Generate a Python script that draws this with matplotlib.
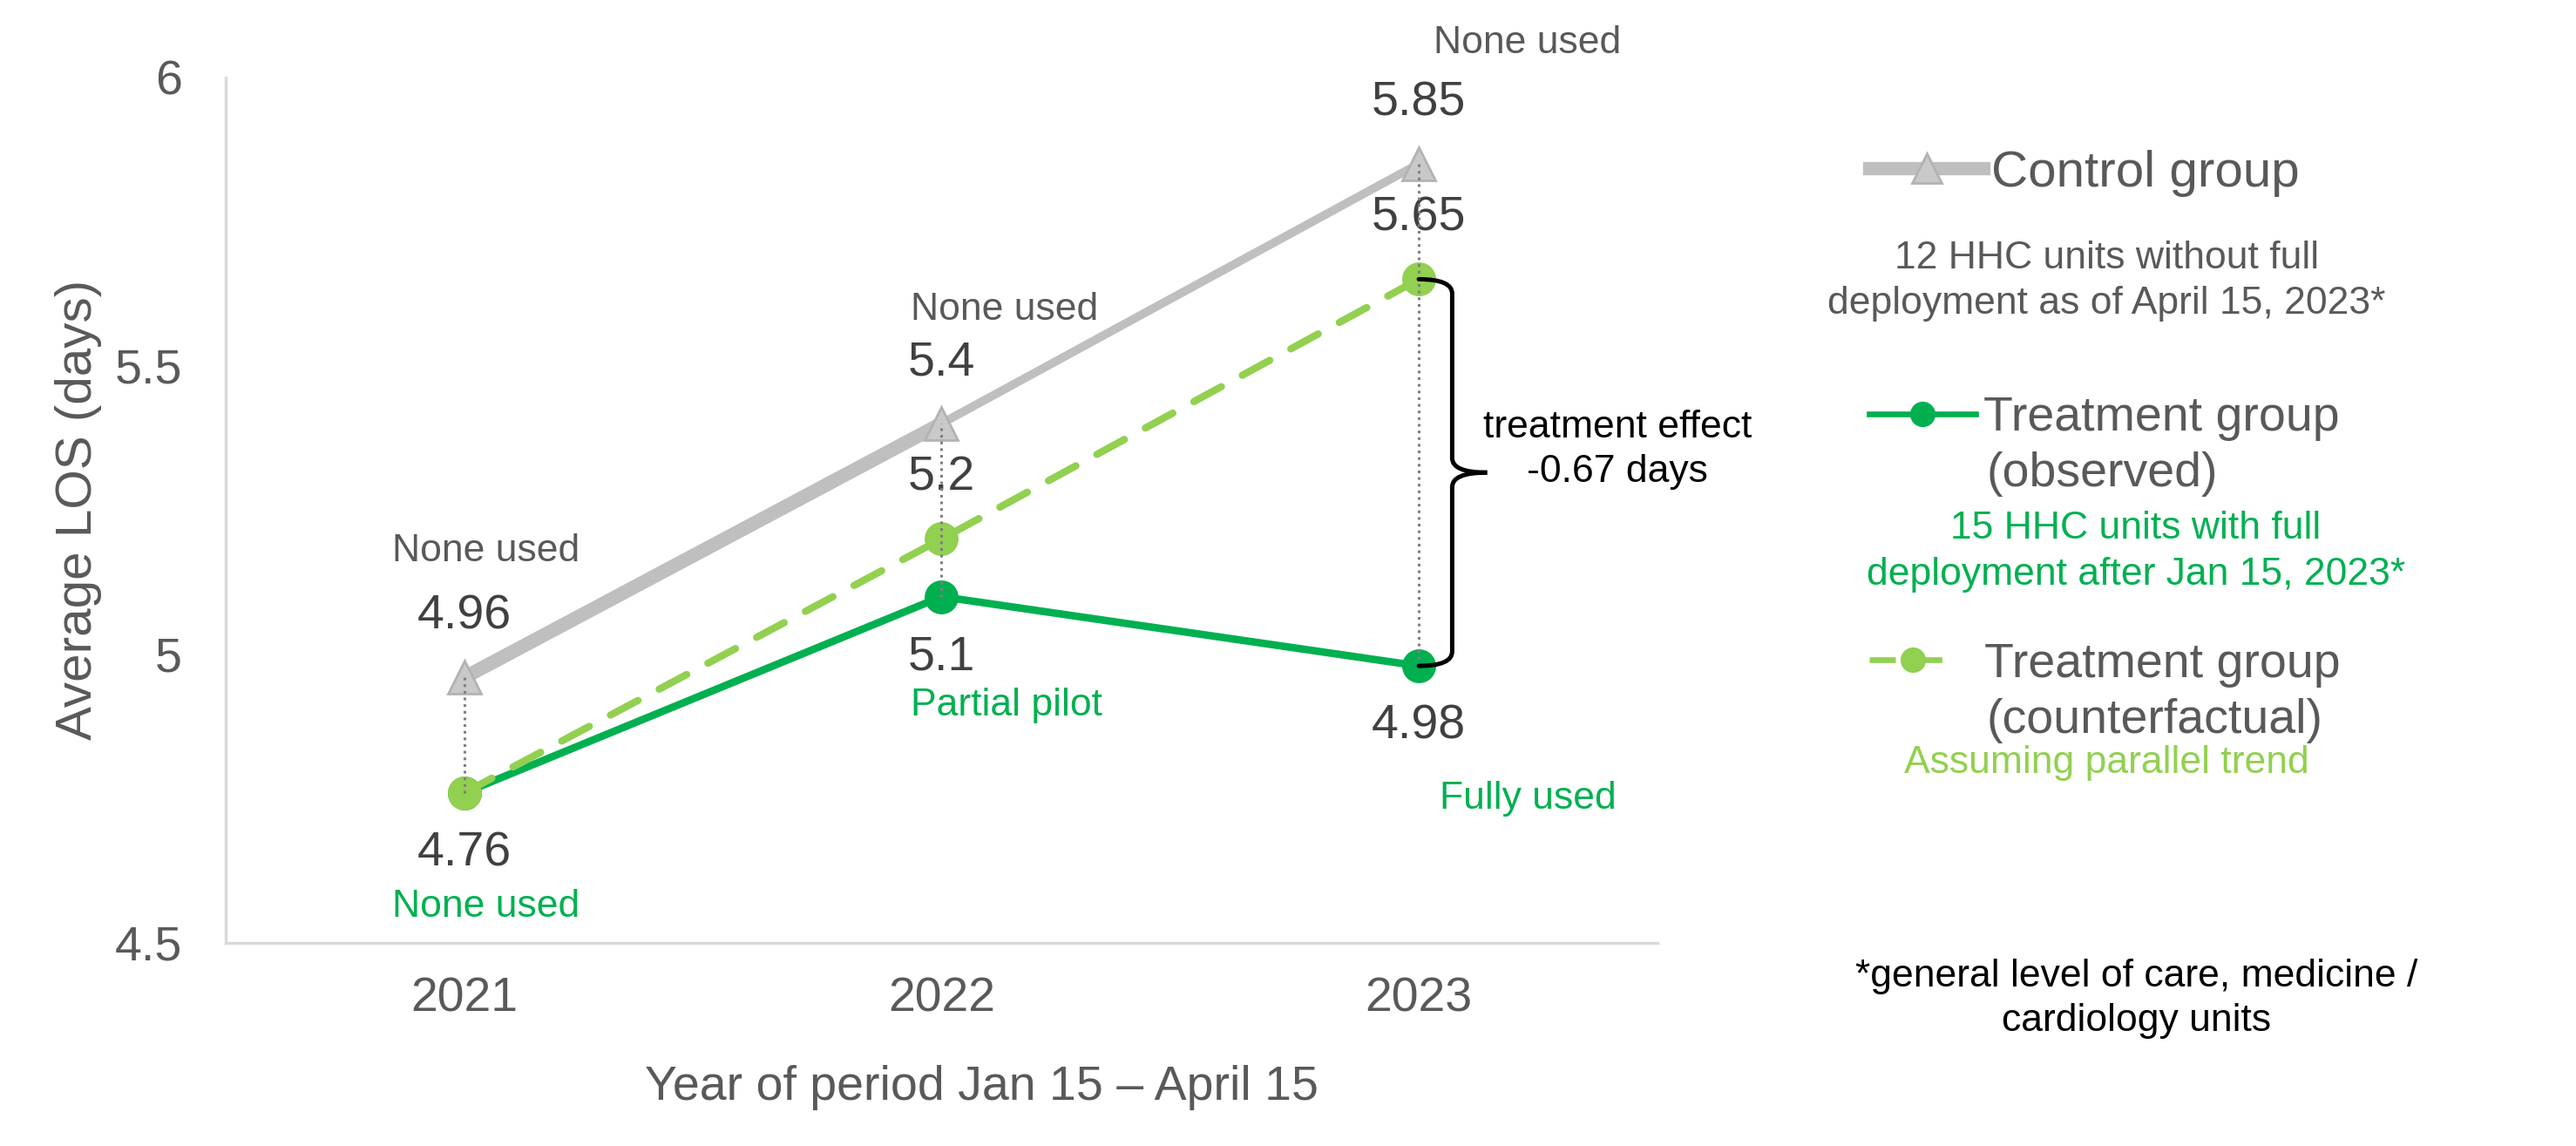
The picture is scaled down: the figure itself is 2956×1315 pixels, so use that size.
import numpy as np
import matplotlib.pyplot as plt
from matplotlib.lines import Line2D
from matplotlib.path import Path
from matplotlib.patches import PathPatch

plt.rcParams['font.family'] = ['Liberation Sans', 'DejaVu Sans']

# data
years = ["2021", "2022", "2023"]
control = [4.96, 5.4, 5.85]
treated = [4.76, 5.1, 4.98]
counterfactual = [4.76, 5.2, 5.65]
control_notes = ["None used", "None used", "None used"]
treated_notes = ["None used", "Partial pilot", "Fully used"]
yticks = [4.5, 5, 5.5, 6]

GREY_LINE = "#BFBFBF"
GREEN = "#00B050"
LIGHT_GREEN = "#92D050"
TXT = "#595959"
LBL = "#404040"

fig = plt.figure(figsize=(14.78, 6.575), dpi=200)
ax = fig.add_axes([0.0876, 0.1772, 0.5558, 0.7554])
x = np.arange(len(years))

# lines
ax.plot(x[:2], control[:2], color=GREY_LINE, lw=5.7, solid_capstyle='butt', zorder=1.9)
ax.plot(x, control, color=GREY_LINE, lw=3.5, marker='^', ms=13.5,
        mfc='#C9C9C9', mec='#B3B3B3', mew=1, zorder=2)
ax.plot(x, treated, color=GREEN, lw=3.1, marker='o', ms=13, zorder=3)
ax.plot(x, counterfactual, color=LIGHT_GREEN, lw=3.0, ls=(0, (4.3, 3.3)),
        dash_capstyle='round', marker='o', ms=13, zorder=4)

# dotted connectors
lo = np.minimum.reduce([control, treated, counterfactual])
hi = np.maximum.reduce([control, treated, counterfactual])
ax.vlines(x, lo, hi, colors='#7F7F7F', linestyles=(0, (1, 1.5)), lw=1.1, zorder=5)

# value labels
for xi, v in zip(x, control):
    ax.annotate(f"{v:g}", (xi, v), xytext=(0, 25), textcoords='offset points',
                ha='center', va='center', fontsize=20, color=LBL)
for xi, v in zip(x[1:], counterfactual[1:]):
    ax.annotate(f"{v:g}", (xi, v), xytext=(0, 25), textcoords='offset points',
                ha='center', va='center', fontsize=20, color=LBL)
for xi, v in zip(x, treated):
    ax.annotate(f"{v:g}", (xi, v), xytext=(0, -25), textcoords='offset points',
                ha='center', va='center', fontsize=20, color=LBL)

# usage notes
ctrl_off = [(9, 52), (26, 47), (45, 50)]
trt_off = [(9, -47), (27, -45), (45, -55)]
for xi, v, s, off in zip(x, control, control_notes, ctrl_off):
    ax.annotate(s, (xi, v), xytext=off, textcoords='offset points',
                ha='center', va='center', fontsize=16, color=TXT)
for xi, v, s, off in zip(x, treated, treated_notes, trt_off):
    ax.annotate(s, (xi, v), xytext=off, textcoords='offset points',
                ha='center', va='center', fontsize=16, color=GREEN)

# brace for the treatment effect
x0 = x[-1]
xv, xt = x0 + 0.07, x0 + 0.143
ytop, ybot = counterfactual[-1], treated[-1]
ym = (ytop + ybot) / 2
ry = 0.025
verts = [(x0, ytop), (xv, ytop), (xv, ytop - ry), (xv, ym + ry), (xv, ym), (xt, ym),
         (xv, ym), (xv, ym - ry), (xv, ybot + ry), (xv, ybot), (x0, ybot)]
codes = [Path.MOVETO, Path.CURVE3, Path.CURVE3, Path.LINETO, Path.CURVE3, Path.CURVE3,
         Path.CURVE3, Path.CURVE3, Path.LINETO, Path.CURVE3, Path.CURVE3]
ax.add_patch(PathPatch(Path(verts, codes), fill=False, lw=1.8, ec='black',
                       capstyle='round', zorder=6))
effect = treated[-1] - counterfactual[-1]
ax.text(x0 + 0.417, ym + 0.04, f"treatment effect\n{effect:.2f} days", ha='center',
        va='center', fontsize=16, color='black', linespacing=1.3)

# axes styling
ax.set_xlim(-0.5, len(years) - 0.5)
ax.set_ylim(yticks[0], yticks[-1])
ax.set_xticks(x)
ax.set_xticklabels(years)
ax.set_yticks(yticks)
ax.set_yticklabels([f"{t:g}" for t in yticks])
ax.tick_params(axis='both', length=0, labelsize=20, labelcolor=TXT)
ax.tick_params(axis='y', pad=18)
ax.tick_params(axis='x', pad=14)
for s in ['top', 'right']:
    ax.spines[s].set_visible(False)
for s in ['left', 'bottom']:
    ax.spines[s].set_color('#D9D9D9')
    ax.spines[s].set_linewidth(1.2)

fig.text(90 / 2956, 0.555, "Average LOS (days)", rotation=90, ha='center', va='center',
         fontsize=21, color=TXT)
fig.text(0.381, 0.051, "Year of period Jan 15 \u2013 April 15", ha='center', va='center',
         fontsize=20, color=TXT)

# legend
h_ctrl = Line2D([], [], color=GREY_LINE, lw=5.5, marker='^', ms=12, mfc='#C9C9C9', mec='#B3B3B3')
h_trt = Line2D([], [], color=GREEN, lw=2.4, marker='o', ms=9.5)
h_cf = Line2D([], [], color=LIGHT_GREEN, lw=2.4, ls=(0, (4.5, 3.5)), marker='o', ms=9.5)
for h, lab, y, hl, pad, fs in [(h_ctrl, "Control group", 0.849, 2.25, 0.15, 21),
                               (h_trt, "Treatment group", 0.635, 2.2, 0.16, 20),
                               (h_cf, "Treatment group", 0.420, 1.8, 0.58, 20)]:
    fig.legend([h], [lab], loc='center left', bbox_to_anchor=(0.7257, y), frameon=False,
               fontsize=fs, labelcolor=TXT, handlelength=hl, handletextpad=pad,
               borderpad=0, borderaxespad=0, numpoints=1)

fig.text(0.8177, 0.755, "12 HHC units without full\ndeployment as of April 15, 2023*",
         ha='center', va='center', fontsize=16, color=TXT, linespacing=1.35)
fig.text(0.7713, 0.5863, "(observed)", ha='left', va='center', fontsize=20, color=TXT)
fig.text(0.8292, 0.5186, "15 HHC units with full\ndeployment after Jan 15, 2023*",
         ha='center', va='center', fontsize=16, color=GREEN, linespacing=1.35)
fig.text(0.7713, 0.3711, "(counterfactual)", ha='left', va='center', fontsize=20, color=TXT)
fig.text(0.8177, 0.3346, "Assuming parallel trend", ha='center', va='center',
         fontsize=16, color=LIGHT_GREEN)
fig.text(0.8295, 0.1285, "*general level of care, medicine /\ncardiology units",
         ha='center', va='center', fontsize=16, color='black', linespacing=1.3)

fig.savefig("out.png", dpi=200)
